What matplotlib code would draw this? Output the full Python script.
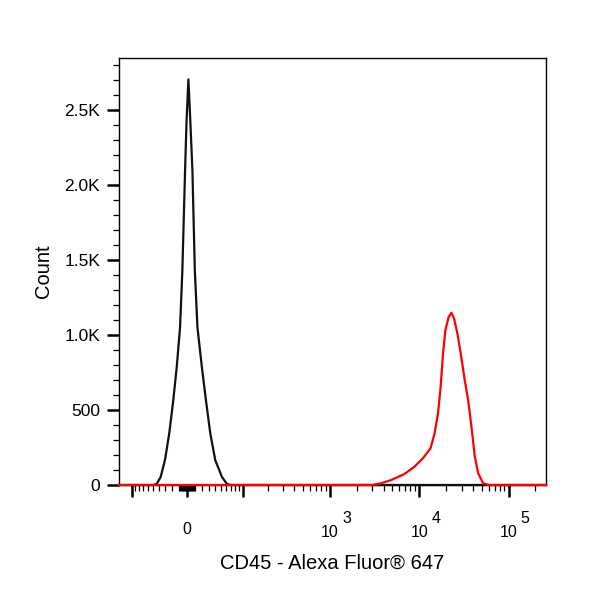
#!/usr/bin/env python3
"""CD45 - Alexa Fluor 647 histogram, biexponential x axis."""
import numpy as np
import matplotlib
matplotlib.use('Agg')
import matplotlib.pyplot as plt

plt.rcParams.update({
    'font.family': ['Liberation Sans', 'DejaVu Sans'],
    'figure.facecolor': 'white',
    'axes.facecolor': 'white',
})

BLACK = '#111111'
RED = '#ff0000'

# --- Data (fluorescence value, event count) ---
black_x = [-143, -50, -44.0, -37.3, -30.5, -24.1, -18.4, -13.7, -9.25, -6.19, -2.63, -0.66,
           1.71, 4.21, 6.99, 10.19, 13.70, 19.8, 25.6, 32.1, 40.1, 52.0, 61.9, 70, 262144]
black_counts = [0, 0, 7, 53, 167, 347, 567, 787, 1053, 1433, 2100, 2433,
                2707, 2433, 2100, 1433, 1053, 787, 567, 347, 167, 53, 7, 0, 0]

red_x = [-143, 3000, 3745, 4852, 6843, 8868, 11013, 13411, 14884, 16256, 17389, 18491,
         19624, 21382, 22931, 24587, 26772, 29159, 32339, 35306, 38455, 41889, 45720,
         52050, 60000, 262144]
red_counts = [0, 0, 11, 33, 73, 122, 178, 245, 345, 478, 655, 878,
              1033, 1122, 1149, 1111, 1011, 878, 700, 567, 389, 189, 78,
              11, 0, 0]

x_major = [-100, 0, 100, 1e3, 1e4, 1e5]
x_decades = [1e3, 1e4, 1e5]
x_exponents = ['3', '4', '5']
x_minor = ([-d for d in range(10, 100, 10)] + [-d for d in range(1, 10)] +
           list(range(1, 10)) + list(range(10, 100, 10)) +
           [m * 10 ** e for e in (2, 3, 4) for m in range(2, 10)] + [2e5])

y_major = [0, 500, 1000, 1500, 2000, 2500]
y_major_labels = ['0', '500', '1.0K', '1.5K', '2.0K', '2.5K']

# biexponential-like display transform
W = 50.8
def fwd(v):
    return np.arcsinh(np.asarray(v, dtype=float) / W)
def inv(v):
    return W * np.sinh(np.asarray(v, dtype=float))

# --- Plot ---
fig = plt.figure(figsize=(6, 6), dpi=100)
ax = fig.add_axes([0.198, 0.1917, 0.712, 0.7117])
ax.set_xscale('function', functions=(fwd, inv))

ax.plot(black_x, black_counts, color=BLACK, linewidth=1.6, clip_on=False, zorder=3)
ax.plot(red_x, red_counts, color=RED, linewidth=1.6, clip_on=False, zorder=4)

ax.set_xlim(-143, 262144)
ax.set_ylim(0, 2850)

ax.set_xticks(x_major)
ax.set_xticklabels(['', '0', '', '', '', ''])
ax.set_xticks(x_minor, minor=True)
ax.set_yticks(y_major)
ax.set_yticklabels(y_major_labels)
ax.set_yticks(np.arange(100, 2900, 100), minor=True)

ax.tick_params(axis='both', which='major', direction='out', length=8.5, width=1.8,
               color='black')
ax.tick_params(axis='both', which='minor', direction='out', length=4.5, width=0.9,
               color='black')
ax.tick_params(axis='x', which='major', pad=27, labelsize=11.5)
ax.tick_params(axis='y', which='major', pad=5, labelsize=12.5)
for lab in ax.get_xticklabels():
    lab.set_verticalalignment('baseline')

# decade labels: "10" with a full-size raised exponent
for xv, ex in zip(x_decades, x_exponents):
    ax.annotate('10', xy=(xv, 0), xycoords=('data', 'axes fraction'),
                xytext=(0, -37.5), textcoords='offset points',
                ha='center', va='baseline', fontsize=11.5)
    ax.annotate(ex, xy=(xv, 0), xycoords=('data', 'axes fraction'),
                xytext=(12, -27.5), textcoords='offset points',
                ha='center', va='baseline', fontsize=11.5)

for s in ax.spines.values():
    s.set_linewidth(1.0)

ax.set_ylabel('Count', fontsize=14.5, labelpad=8)
ax.set_xlabel('CD45 - Alexa Fluor® 647', fontsize=14.5, labelpad=12)

fig.savefig('out.png', dpi=100)
plt.close()
